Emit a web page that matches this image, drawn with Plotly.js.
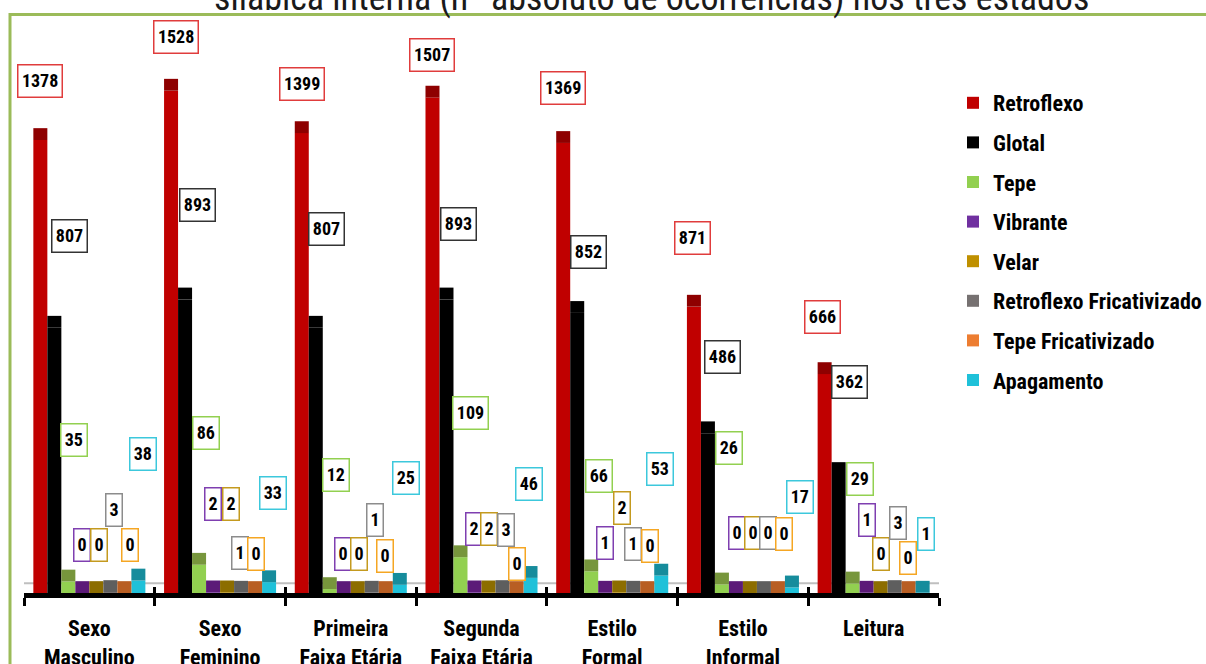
<!DOCTYPE html>
<html>
<head>
<meta charset="utf-8">
<script src="https://cdn.plot.ly/plotly-3.0.1.min.js"></script>
<style>html,body{margin:0;padding:0;background:#fff;}#chart{width:1206px;height:664px;}</style>
</head>
<body>
<div id="chart"></div>
<script>
// ---- data ----
const categories = ['Sexo<br>Masculino', 'Sexo<br>Feminino', 'Primeira<br>Faixa Etária', 'Segunda<br>Faixa Etária', 'Estilo<br>Formal', 'Estilo<br>Informal', 'Leitura'];
const seriesNames = ['Retroflexo', 'Glotal', 'Tepe', 'Vibrante', 'Velar', 'Retroflexo Fricativizado', 'Tepe Fricativizado', 'Apagamento'];
const retroflexo = [1378, 1528, 1399, 1507, 1369, 871, 666];
const glotal = [807, 893, 807, 893, 852, 486, 362];
const tepe = [35, 86, 12, 109, 66, 26, 29];
const vibrante = [0, 2, 0, 2, 1, 0, 1];
const velar = [0, 2, 0, 2, 2, 0, 0];
const retroflexoFricativizado = [3, 1, 1, 3, 1, 0, 3];
const tepeFricativizado = [0, 0, 0, 0, 0, 0, 0];
const apagamento = [38, 33, 25, 46, 53, 17, 1];
const titleText = 'silábica interna (nº absoluto de ocorrências) nos três estados';

// ---- style ----
const seriesValues = [retroflexo, glotal, tepe, vibrante, velar, retroflexoFricativizado, tepeFricativizado, apagamento];
const frontColors = ['#C00000', '#000000', '#92D050', '#7030A0', '#BF9000', '#767171', '#ED7D31', '#1FC1D9'];
const capColors = ['#8E0000', '#000000', '#77963C', '#5C1A78', '#8C6D00', '#5E5E5E', '#B85E23', '#168C9C'];
const boxColors = ['#E03C3C', '#333333', '#92D050', '#7F3FB0', '#C49A1F', '#8C8C8C', '#F5A623', '#3CC8DC'];
const FONT = '"Roboto Condensed", "DejaVu Sans Condensed", "Liberation Sans", Arial, sans-serif';
const CAP = 36;           // 3-D depth of each column (data units)
const BARGAP = 0.143;
const barUnit = (1 - BARGAP) / seriesNames.length;

// label placement (pixel shifts relative to bar top), per series / per group
const labelDx = [
  [0, 5, 0, 0, 0, -1, -2],
  [15, 12, 11, 12, 11, 15, 11],
  [6, 7, 6, 10, 8, 7, 7],
  [0, 0, -1, -1, 0, 1, 0],
  [3, 4, 1, 0, 3, 3, 0],
  [4, -1, 3, 3, 0, 4, 3],
  [6, 1, -1, 0, 3, 6, -1],
  [5, 4, 6, -2, -1, 8, 3]
];
const labelDy = [
  [59, 54, 49, 43, 55, 69, 57],
  [92, 94, 99, 75, 61, 76, 92],
  [141, 132, 114, 144, 95, 136, 104],
  [48, 88, 39, 63, 50, 60, 73],
  [48, 88, 39, 63, 84, 60, 39],
  [82, 40, 73, 62, 49, 60, 69],
  [48, 39, 37, 29, 47, 59, 35],
  [127, 89, 107, 94, 107, 90, 59]
];

const traces = [];
seriesNames.forEach((name, j) => {
  traces.push({
    type: 'bar', name: name, x: categories, y: seriesValues[j],
    marker: {color: frontColors[j], line: {width: 0}},
    offsetgroup: 'g' + j, legendgroup: 'g' + j, hoverinfo: 'skip'
  });
});
seriesNames.forEach((name, j) => {
  traces.push({
    type: 'bar', name: name + ' (topo)', x: categories, y: seriesValues[j].map(() => CAP),
    base: seriesValues[j],
    marker: {color: capColors[j], line: {width: 0}},
    offsetgroup: 'g' + j, legendgroup: 'g' + j, showlegend: false, hoverinfo: 'skip'
  });
});
// helper trace for the inner half of the boundary ticks
traces.push({type: 'scatter', x: categories, y: categories.map(() => null), xaxis: 'x2', yaxis: 'y',
  showlegend: false, hoverinfo: 'skip', mode: 'lines'});

const annotations = [];
seriesNames.forEach((name, j) => {
  seriesValues[j].forEach((v, i) => {
    const txt = String(v);
    annotations.push({
      xref: 'x', yref: 'y', x: i + (j - 3.5) * barUnit, y: v,
      xshift: labelDx[j][i], yshift: labelDy[j][i],
      text: txt, showarrow: false, xanchor: 'center', yanchor: 'middle',
      width: 9.3 * txt.length + 2, height: 26.5, valign: 'middle', align: 'center',
      font: {family: FONT, size: 18, color: '#000', weight: 'bold'},
      bgcolor: '#FFFFFF', bordercolor: boxColors[j], borderwidth: 1.5, borderpad: 2
    });
  });
});
annotations.push({
  xref: 'paper', yref: 'paper', x: (651 - 24) / 915, y: (593 + 2) / 573,
  text: titleText, showarrow: false, xanchor: 'center', yanchor: 'middle',
  font: {family: FONT, size: 36, color: '#1A1A1A'}
});

const layout = {
  width: 1206, height: 664,
  margin: {l: 24, r: 267, t: 20, b: 71, pad: 0, autoexpand: false},
  paper_bgcolor: '#FFFFFF', plot_bgcolor: '#FFFFFF',
  barmode: 'group', bargap: BARGAP, bargroupgap: 0,
  showlegend: true,
  legend: {
    x: (953 - 24) / 915, y: (593 - 82) / 573, xanchor: 'left', yanchor: 'top',
    font: {family: FONT, size: 22, color: '#000', weight: 'bold'},
    bgcolor: 'rgba(0,0,0,0)', tracegroupgap: 8, traceorder: 'grouped'
  },
  xaxis: {
    type: 'category', range: [-0.5, 6.5], autorange: false, showgrid: false, zeroline: false,
    showline: true, linecolor: '#000', linewidth: 5,
    ticks: 'outside', tickson: 'boundaries', ticklen: 8, tickwidth: 3, tickcolor: '#000',
    tickangle: 0, ticklabelstandoff: 12,
    tickfont: {family: FONT, size: 22, color: '#000', weight: 'bold'},
    fixedrange: true
  },
  xaxis2: {
    type: 'category', overlaying: 'x', matches: 'x', anchor: 'y', side: 'bottom',
    showgrid: false, zeroline: false, showline: false,
    ticks: 'inside', tickson: 'boundaries', ticklen: 6, tickwidth: 3, tickcolor: '#000',
    showticklabels: false, fixedrange: true
  },
  yaxis: {
    range: [0, 1743], visible: false, showgrid: false, zeroline: false, fixedrange: true
  },
  shapes: [
    {type: 'line', xref: 'paper', yref: 'y', x0: 0, x1: 1, y0: 30, y1: 30,
      line: {color: '#BFBFBF', width: 2}, layer: 'below'},
    {type: 'rect', xref: 'paper', yref: 'paper',
      x0: (10 - 24) / 915, x1: (1215 - 24) / 915, y0: (593 - 690) / 573, y1: (593 - 14.5) / 573,
      line: {color: '#9BBB59', width: 3}, fillcolor: 'rgba(0,0,0,0)', layer: 'above'}
  ],
  annotations: annotations,
  hovermode: false
};

Plotly.newPlot('chart', traces, layout, {displayModeBar: false, staticPlot: true});
</script>
</body>
</html>
